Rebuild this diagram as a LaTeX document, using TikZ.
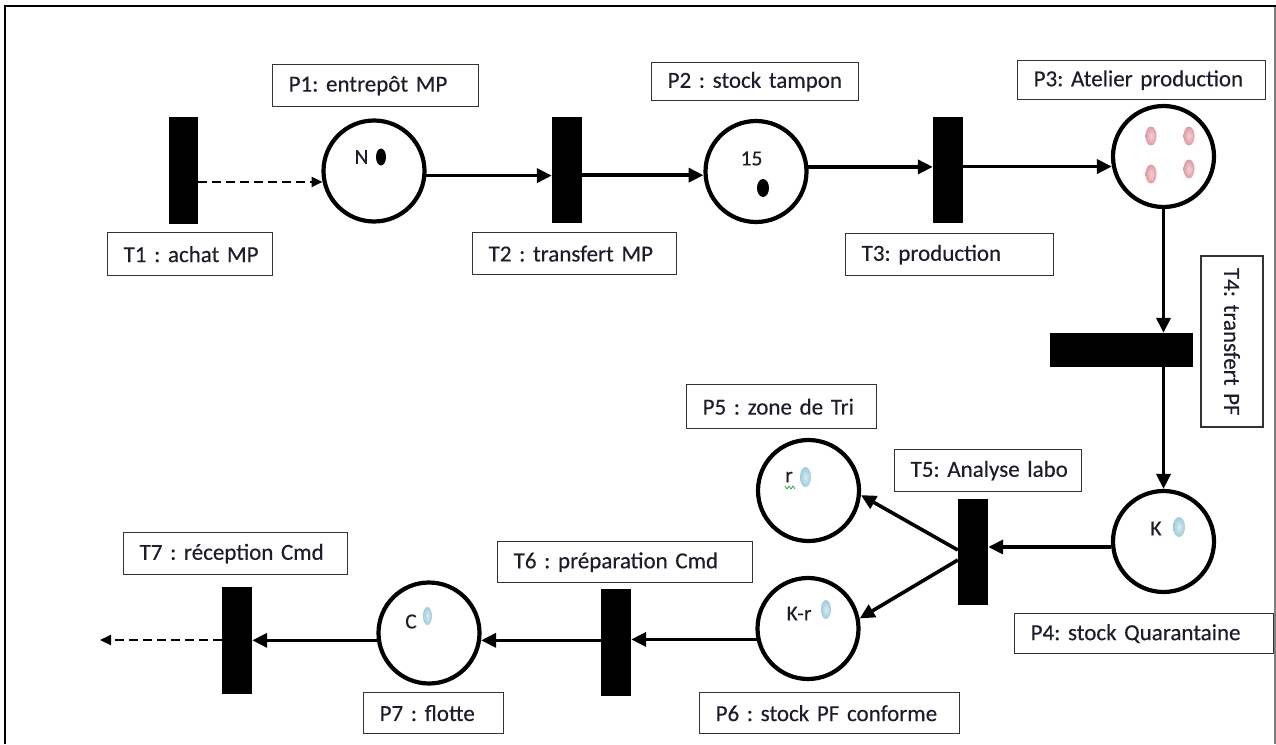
\documentclass[tikz,border=0pt]{standalone}
\usepackage{fontspec}
\setmainfont{Carlito}[WordSpace=0.75, FakeBold=0.35]
\frenchspacing
\usetikzlibrary{arrows.meta}

\definecolor{txt}{HTML}{1E1E2A}
\definecolor{tokpink}{HTML}{E09AA4}
\definecolor{tokblue}{HTML}{9FCCDB}
\definecolor{spell}{HTML}{3FA03F}

\begin{document}
\begin{tikzpicture}[x=1pt,y=-1pt,
  place/.style={circle, draw=black, line width=4.2pt, minimum size=101pt, inner sep=0pt},
  trans/.style={fill=black, draw=none, inner sep=0pt},
  lbl/.style={draw=black!80, line width=1.3pt, anchor=north west, inner xsep=16pt,
              inner ysep=0pt, align=left, font=\fontsize{23}{27}\selectfont, text=txt},
  intxt/.style={font=\fontsize{21.5}{25}\selectfont, text=txt, inner sep=0pt},
  arc/.style={line width=3.6pt, -{Triangle[length=15pt,width=14pt]}},
  darc/.style={line width=2.2pt, dash pattern=on 9pt off 5pt, -{Triangle[length=11pt,width=10pt]}},
  pinktok/.style={inner color=tokpink!45!white, outer color=tokpink},
  bluetok/.style={inner color=tokblue!40!white, outer color=tokblue},
]
\useasboundingbox (0,0) rectangle (1276,744);

% page frame
\draw[line width=2.2pt] (5,744) -- (5,6) -- (1276,6);
\draw[gray, line width=1.2pt] (1275,7) -- (1275,744);

% places
\node[place] (P1) at (374,171) {};
\node[place] (P2) at (756,171.5) {};
\node[place] (P3) at (1163.5,156.5) {};
\node[place] (P4) at (1163.5,541.5) {};
\node[place] (P5) at (808.5,490.5) {};
\node[place] (P6) at (808,628.5) {};
\node[place] (P7) at (429,633) {};

% transitions
\node[trans, minimum width=29pt, minimum height=107pt] (T1) at (183.5,170.5) {};
\node[trans, minimum width=30pt, minimum height=106pt] (T2) at (567,170) {};
\node[trans, minimum width=30pt, minimum height=106pt] (T3) at (948,170) {};
\node[trans, minimum width=143pt, minimum height=34pt] (T4) at (1121.5,350) {};
\node[trans, minimum width=30pt, minimum height=106pt] (T5) at (973,552) {};
\node[trans, minimum width=30pt, minimum height=107pt] (T6) at (616,642.5) {};
\node[trans, minimum width=30pt, minimum height=107pt] (T7) at (237,640.5) {};

% labels
\node[lbl, text width=133pt, minimum height=43pt] (lT1) at (107,232) {\mbox{T1 : achat MP}};
\node[lbl, text width=174pt, minimum height=42pt] (lP1) at (272,64) {\mbox{P1: entrepôt MP}};
\node[lbl, text width=172pt, minimum height=42pt] (lT2) at (472,232) {\mbox{T2 : transfert MP}};
\node[lbl, text width=175pt, minimum height=38pt] (lP2) at (651,62) {\mbox{P2 : stock tampon}};
\node[lbl, text width=176pt, minimum height=42pt] (lT3) at (845,233) {\mbox{T3: production}};
\node[lbl, text width=216pt, minimum height=39pt] (lP3) at (1017,60) {\mbox{P3: Atelier production}};
\node[lbl, anchor=center, rotate=-90, inner xsep=12pt, text width=147pt, minimum height=62pt] (lT4) at (1232,341.5) {\mbox{T4: transfert PF}};
\node[lbl, text width=227pt, minimum height=40pt] (lP4) at (1014,613) {\mbox{P4: stock Quarantaine}};
\node[lbl, text width=155pt, minimum height=42pt] (lT5) at (894,449) {\mbox{T5: Analyse labo}};
\node[lbl, text width=158pt, minimum height=44pt] (lP5) at (686,384) {\mbox{P5 : zone de Tri}};
\node[lbl, text width=223pt, minimum height=41pt] (lT6) at (497,541) {\mbox{T6 : préparation Cmd}};
\node[lbl, text width=228pt, minimum height=41pt] (lP6) at (699,692) {\mbox{P6 : stock PF conforme}};
\node[lbl, text width=192pt, minimum height=42pt] (lT7) at (123,532) {\mbox{T7 : réception Cmd}};
\node[lbl, text width=108pt, minimum height=41pt] (lP7) at (363,692) {\mbox{P7 : flotte}};

% marking texts
\node[intxt] (mN) at (361.5,157) {N};
\node[intxt] (m15) at (751.5,158.5) {15};
\node[intxt] (mK) at (1156,528.5) {K};
\node[intxt] (mr) at (789,477) {r};
\node[intxt] (mKr) at (799,613.5) {K-r};
\node[intxt] (mC) at (411,621.5) {C};

% tokens
\fill (381,157) ellipse [x radius=5pt, y radius=8.5pt];
\fill (763,188) ellipse [x radius=6pt, y radius=9pt];
\shade[pinktok] (1151,136) ellipse [x radius=5.5pt, y radius=9.5pt];
\shade[pinktok] (1189,136) ellipse [x radius=5.5pt, y radius=9.5pt];
\shade[pinktok] (1151,174) ellipse [x radius=5.5pt, y radius=9.5pt];
\shade[pinktok] (1189,169) ellipse [x radius=5.5pt, y radius=9.5pt];
\shade[bluetok] (1179,527) ellipse [x radius=6pt, y radius=10pt];
\shade[bluetok] (805.5,477) ellipse [x radius=5.5pt, y radius=10pt];
\shade[bluetok] (826,609.5) ellipse [x radius=5pt, y radius=9.5pt];
\shade[bluetok] (427.5,616) ellipse [x radius=4.5pt, y radius=9pt];

% wavy underline below r
\draw[spell, line width=0.8pt] (785,486) -- (787,489) -- (789,486) -- (791,489) -- (793,486) -- (795,489);

% arcs
\draw[darc] (T1.east |- P1.192) -- (P1.192);
\draw[arc] (P1.-5) -- (T2.west |- P1.-5);
\draw[arc] (T2.east |- P2.184) -- (P2.184);
\draw[arc] (P2.5) -- (T3.west |- P2.5);
\draw[arc] (T3.east |- P3.191) -- (P3.191);
\draw[arc] (P3.south) -- (P3.south |- T4.north);
\draw[arc] (P4.north |- T4.south) -- (P4.north);
\draw[arc] (P4.186) -- (T5.east |- P4.186);
\draw[arc] ([yshift=2pt]T5.west) -- (P5.-5);
\draw[arc] ([yshift=-8pt]T5.west) -- (P6.11);
\draw[arc] (P6.192) -- (T6.east |- P6.192);
\draw[arc] (T6.west |- P7.-8) -- (P7.-8);
\draw[arc] (P7.188) -- (T7.east |- P7.188);
\coordinate (exit) at (100,640);
\draw[darc] (T7.west |- exit) -- (exit);
\end{tikzpicture}
\end{document}
